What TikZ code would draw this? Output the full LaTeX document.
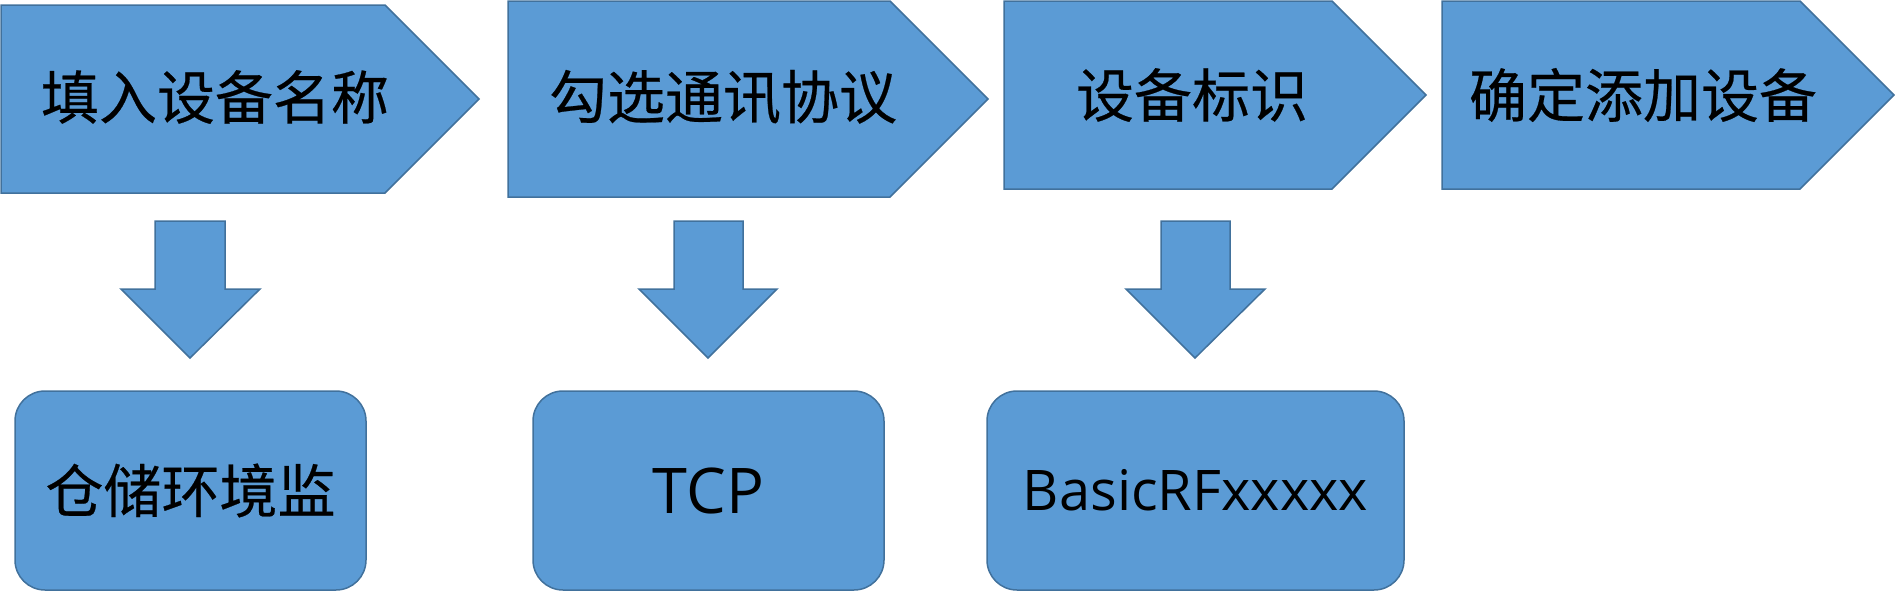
\documentclass[tikz,border=0pt]{standalone}
\usepackage{fontspec}
\setmainfont{Open Sans}
\newfontfamily\cjk[FakeBold=0.4]{Noto Sans CJK SC}
\usetikzlibrary{positioning}
\definecolor{boxblue}{HTML}{5B9BD5}
\definecolor{boxline}{HTML}{41719C}

\begin{document}
\begin{tikzpicture}[
			x=1pt, y=-1pt,
			every node/.style={
					text=black,
					inner sep=0pt
				},
			blockshape/.style={
					draw=boxline,
					fill=boxblue,
					line width=1.5pt
				},
			steptext/.style={font=\cjk\fontsize{58}{60}\selectfont},
			resultbox/.style={
					blockshape,
					rounded corners=30pt,
					minimum width=351pt,
					minimum height=199pt
				}
		]
		\useasboundingbox (0,0) rectangle (1895,592);

		% the four steps across the top
		\draw[blockshape] (1,5) -- (385,5) -- (479,99) -- (385,193) -- (1,193) -- cycle;
		\node[steptext] (step1) at (215,97) {填入设备名称};

		\draw[blockshape] (508,1) -- (890,1) -- (988,99) -- (890,197) -- (508,197) -- cycle;
		\node[steptext] (step2) at (723,97) {勾选通讯协议};

		\draw[blockshape] (1004,1) -- (1332,1) -- (1426,95) -- (1332,189) -- (1004,189) -- cycle;
		\node[steptext] (step3) at (1192,95) {设备标识};

		\draw[blockshape] (1442,1) -- (1800,1) -- (1894,95) -- (1800,189) -- (1442,189) -- cycle;
		\node[steptext] (step4) at (1643,95) {确定添加设备};

		% down arrows
		\draw[blockshape] (155,221) -- (225,221) -- (225,289) -- (260,289) -- (190,358) -- (121,289) -- (155,289) -- cycle;
		\draw[blockshape] (674,221) -- (743,221) -- (743,289) -- (777,289) -- (708,358) -- (639,289) -- (674,289) -- cycle;
		\draw[blockshape] (1161,221) -- (1230,221) -- (1230,289) -- (1265,289) -- (1195,358) -- (1126,289) -- (1161,289) -- cycle;

		% values filled in
		\node[resultbox, steptext] (res1) at (190.5,490.5) {仓储环境监};
		\node[resultbox, font=\fontsize{63}{66}\selectfont] (res2) at (708.5,490.5) {TCP};
		\node[resultbox, font=\fontsize{56}{60}\selectfont, minimum width=417pt] (res3) at (1195.5,490.5) {BasicRFxxxxx};

	\end{tikzpicture}
\end{document}
